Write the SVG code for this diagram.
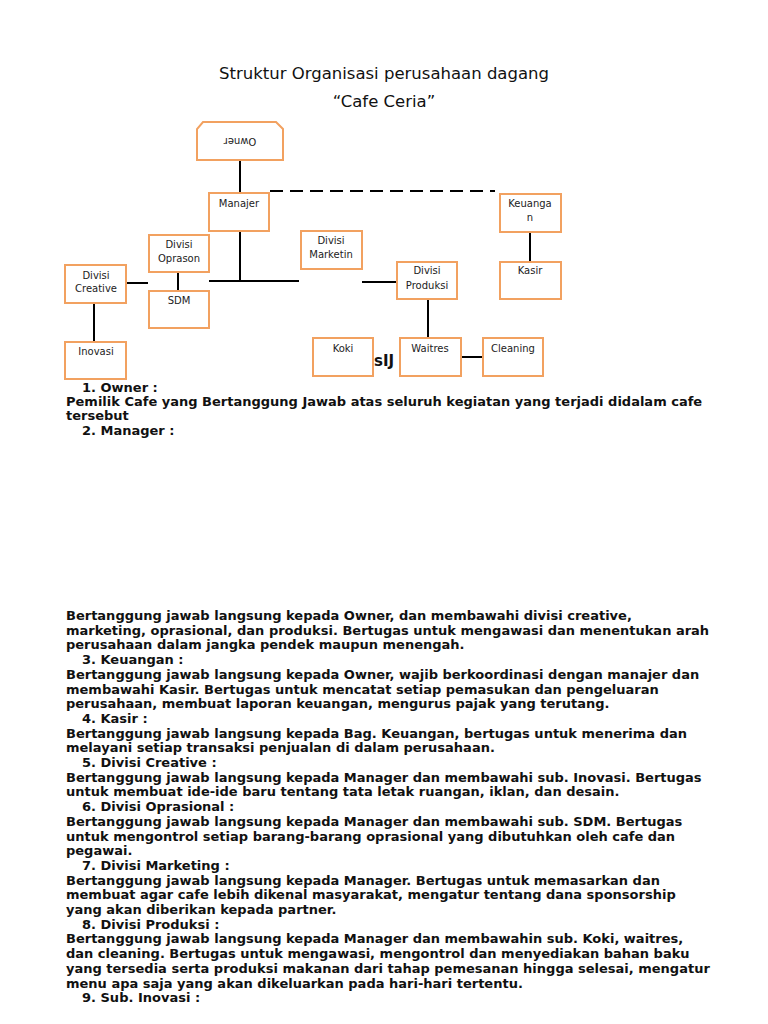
<svg xmlns="http://www.w3.org/2000/svg" width="768" height="1024" viewBox="0 0 768 1024">
<style>
.title{font-family:"DejaVu Sans",sans-serif;font-size:16.5px;fill:#111;text-anchor:middle}
.box{fill:#fff;stroke:#f2a160;stroke-width:2}
.lbl{font-family:"DejaVu Sans",sans-serif;font-size:10px;fill:#222;text-anchor:middle}
.ln{stroke:#000;stroke-width:2;fill:none}
.body{font-family:"DejaVu Sans",sans-serif;font-size:13px;font-weight:bold;fill:#111}
</style>
<rect width="768" height="1024" fill="#fff"/>
<text class="title" x="384" y="79">Struktur Organisasi perusahaan dagang</text>
<text class="title" x="384" y="107">“Cafe Ceria”</text>
<g id="connectors">
<line class="ln" x1="240" y1="161" x2="240" y2="193"/>
<line class="ln" x1="270" y1="191" x2="495" y2="191" stroke-dasharray="13,7"/>
<line class="ln" x1="240" y1="231" x2="240" y2="281"/>
<line class="ln" x1="209" y1="281" x2="299" y2="281"/>
<line class="ln" x1="362" y1="282" x2="397" y2="282"/>
<line class="ln" x1="126" y1="283" x2="148" y2="283"/>
<line class="ln" x1="178" y1="263" x2="178" y2="291"/>
<line class="ln" x1="94" y1="303" x2="94" y2="342"/>
<line class="ln" x1="530" y1="232" x2="530" y2="262"/>
<line class="ln" x1="428" y1="299" x2="428" y2="338"/>
<line class="ln" x1="461" y1="357" x2="483" y2="357"/>
</g>
<g id="owner"><path class="box" d="M203,122 H276 L283,129 V160 H197 V129 Z"/><text class="lbl" transform="rotate(180 240 141)" x="240" y="144">Owner</text></g>
<g id="manajer"><rect class="box" x="209" y="193" width="60" height="38"/><text class="lbl" x="239" y="207">Manajer</text></g>
<g id="keuangan"><rect class="box" x="500" y="194" width="61" height="38"/><text class="lbl" x="530" y="207">Keuanga</text><text class="lbl" x="530" y="221">n</text></g>
<g id="kasir"><rect class="box" x="500" y="262" width="61" height="37"/><text class="lbl" x="530" y="274">Kasir</text></g>
<g id="divisi-marketing"><rect class="box" x="301" y="231" width="61" height="38"/><text class="lbl" x="331" y="244">Divisi</text><text class="lbl" x="331" y="258">Marketin</text></g>
<g id="divisi-produksi"><rect class="box" x="397" y="262" width="60" height="37"/><text class="lbl" x="427" y="274">Divisi</text><text class="lbl" x="427" y="289">Produksi</text></g>
<g id="divisi-oprasional"><rect class="box" x="149" y="235" width="60" height="37"/><text class="lbl" x="179" y="248">Divisi</text><text class="lbl" x="179" y="262">Oprason</text></g>
<g id="sdm"><rect class="box" x="149" y="291" width="60" height="37"/><text class="lbl" x="179" y="304">SDM</text></g>
<g id="divisi-creative"><rect class="box" x="65" y="265" width="61" height="38"/><text class="lbl" x="96" y="279">Divisi</text><text class="lbl" x="96" y="292">Creative</text></g>
<g id="inovasi"><rect class="box" x="65" y="342" width="61" height="37"/><text class="lbl" x="96" y="355">Inovasi</text></g>
<g id="koki"><rect class="box" x="313" y="338" width="60" height="38"/><text class="lbl" x="343" y="352">Koki</text></g>
<g id="waitres"><rect class="box" x="400" y="338" width="61" height="38"/><text class="lbl" x="430" y="352">Waitres</text></g>
<g id="cleaning"><rect class="box" x="483" y="338" width="60" height="38"/><text class="lbl" x="513" y="352">Cleaning</text></g>
<text x="374" y="366" font-family="DejaVu Sans, sans-serif" font-size="15" font-weight="bold" fill="#111">sIJ</text>
<g id="description" class="body">
<text x="82" y="392">1. Owner :</text>
<text x="66" y="406">Pemilik Cafe yang Bertanggung Jawab atas seluruh kegiatan yang terjadi didalam cafe</text>
<text x="66" y="420">tersebut</text>
<text x="82" y="435">2. Manager :</text>
<text x="66" y="620">Bertanggung jawab langsung kepada Owner, dan membawahi divisi creative,</text>
<text x="66" y="634.7">marketing, oprasional, dan produksi. Bertugas untuk mengawasi dan menentukan arah</text>
<text x="66" y="649.4">perusahaan dalam jangka pendek maupun menengah.</text>
<text x="82" y="664.1">3. Keuangan :</text>
<text x="66" y="678.8">Bertanggung jawab langsung kepada Owner, wajib berkoordinasi dengan manajer dan</text>
<text x="66" y="693.5">membawahi Kasir. Bertugas untuk mencatat setiap pemasukan dan pengeluaran</text>
<text x="66" y="708.2">perusahaan, membuat laporan keuangan, mengurus pajak yang terutang.</text>
<text x="82" y="722.9">4. Kasir :</text>
<text x="66" y="737.6">Bertanggung jawab langsung kepada Bag. Keuangan, bertugas untuk menerima dan</text>
<text x="66" y="752.3">melayani setiap transaksi penjualan di dalam perusahaan.</text>
<text x="82" y="767">5. Divisi Creative :</text>
<text x="66" y="781.7">Bertanggung jawab langsung kepada Manager dan membawahi sub. Inovasi. Bertugas</text>
<text x="66" y="796.4">untuk membuat ide-ide baru tentang tata letak ruangan, iklan, dan desain.</text>
<text x="82" y="811.1">6. Divisi Oprasional :</text>
<text x="66" y="825.8">Bertanggung jawab langsung kepada Manager dan membawahi sub. SDM. Bertugas</text>
<text x="66" y="840.5">untuk mengontrol setiap barang-barang oprasional yang dibutuhkan oleh cafe dan</text>
<text x="66" y="855.2">pegawai.</text>
<text x="82" y="869.9">7. Divisi Marketing :</text>
<text x="66" y="884.6">Bertanggung jawab langsung kepada Manager. Bertugas untuk memasarkan dan</text>
<text x="66" y="899.3">membuat agar cafe lebih dikenal masyarakat, mengatur tentang dana sponsorship</text>
<text x="66" y="914">yang akan diberikan kepada partner.</text>
<text x="82" y="928.7">8. Divisi Produksi :</text>
<text x="66" y="943.4">Bertanggung jawab langsung kepada Manager dan membawahin sub. Koki, waitres,</text>
<text x="66" y="958.1">dan cleaning. Bertugas untuk mengawasi, mengontrol dan menyediakan bahan baku</text>
<text x="66" y="972.8">yang tersedia serta produksi makanan dari tahap pemesanan hingga selesai, mengatur</text>
<text x="66" y="987.5">menu apa saja yang akan dikeluarkan pada hari-hari tertentu.</text>
<text x="82" y="1002.2">9. Sub. Inovasi :</text>
</g>
</svg>
